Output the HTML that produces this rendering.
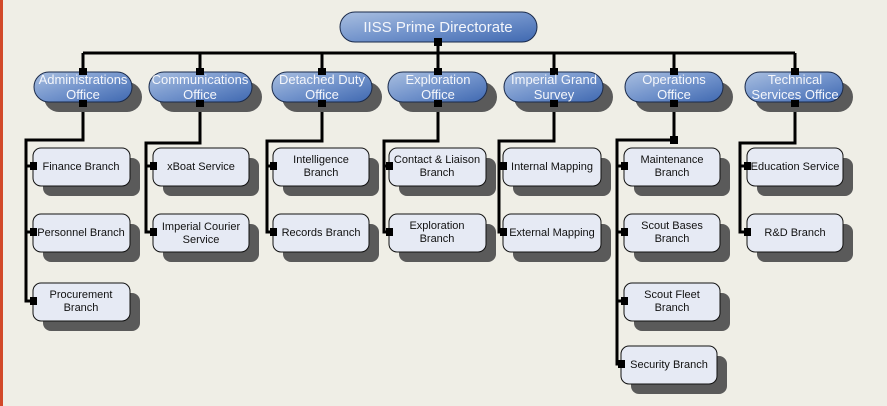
<!DOCTYPE html>
<html><head><meta charset="utf-8"><style>
html,body{margin:0;padding:0;background:#efeee6;}
svg{display:block;font-family:"Liberation Sans",sans-serif;}
</style></head><body>
<svg width="887" height="406" viewBox="0 0 887 406" xmlns="http://www.w3.org/2000/svg">
<defs>
<linearGradient id="pg" x1="0" y1="0" x2="1" y2="1">
<stop offset="0" stop-color="#a9bfe0"/><stop offset="0.5" stop-color="#7394cc"/><stop offset="1" stop-color="#3f68b0"/>
</linearGradient>
</defs>
<rect x="0" y="0" width="887" height="406" fill="#efeee6"/>
<rect x="0" y="0" width="3" height="406" fill="#d2492a"/>
<g stroke="#000" stroke-width="3" fill="none">
<line x1="438" y1="42" x2="438" y2="72"/>
<line x1="83" y1="53" x2="795" y2="53"/>
<line x1="83" y1="53" x2="83" y2="72"/><line x1="200" y1="53" x2="200" y2="72"/><line x1="322" y1="53" x2="322" y2="72"/><line x1="554" y1="53" x2="554" y2="72"/><line x1="674" y1="53" x2="674" y2="72"/><line x1="795" y1="53" x2="795" y2="72"/>
<polyline points="83,102 83,140 26,140 26,301 33,301"/><line x1="26" y1="232" x2="33" y2="232"/><line x1="26" y1="166" x2="33" y2="166"/>
<polyline points="200,102 200,143 146,143 146,232 153,232"/><line x1="146" y1="166" x2="153" y2="166"/>
<polyline points="322,102 322,141 267,141 267,232 273,232"/><line x1="267" y1="166" x2="273" y2="166"/>
<polyline points="438,102 438,141 384,141 384,232 389,232"/><line x1="384" y1="166" x2="389" y2="166"/>
<polyline points="554,102 554,141 499,141 499,232 503,232"/><line x1="499" y1="166" x2="503" y2="166"/>
<polyline points="674,102 674,140 617,140 617,364 621,364"/><line x1="617" y1="166" x2="624" y2="166"/><line x1="617" y1="232" x2="624" y2="232"/><line x1="617" y1="301" x2="624" y2="301"/>
<polyline points="795,102 795,143 740,143 740,232 747,232"/><line x1="740" y1="166" x2="747" y2="166"/>
</g>
<g fill="#5a5a5a">
<rect x="44" y="82" width="98" height="30" rx="15"/><rect x="159" y="82" width="103" height="30" rx="15"/><rect x="282" y="82" width="100" height="30" rx="15"/><rect x="398" y="82" width="99" height="30" rx="15"/><rect x="514" y="82" width="99" height="30" rx="15"/><rect x="635" y="82" width="98" height="30" rx="15"/><rect x="755" y="82" width="98" height="30" rx="15"/>
<rect x="43" y="158" width="97" height="38" rx="8"/><rect x="43" y="224" width="97" height="38" rx="8"/><rect x="43" y="293" width="97" height="38" rx="8"/>
<rect x="163" y="158" width="96" height="38" rx="8"/><rect x="163" y="224" width="96" height="38" rx="8"/>
<rect x="283" y="158" width="96" height="38" rx="8"/><rect x="283" y="224" width="96" height="38" rx="8"/>
<rect x="399" y="158" width="97" height="38" rx="8"/><rect x="399" y="224" width="97" height="38" rx="8"/>
<rect x="513" y="158" width="98" height="38" rx="8"/><rect x="513" y="224" width="98" height="38" rx="8"/>
<rect x="634" y="158" width="96" height="38" rx="8"/><rect x="634" y="224" width="96" height="38" rx="8"/><rect x="634" y="293" width="96" height="38" rx="8"/><rect x="631" y="356" width="96" height="38" rx="8"/>
<rect x="757" y="158" width="96" height="38" rx="8"/><rect x="757" y="224" width="96" height="38" rx="8"/>
</g>
<g fill="url(#pg)" stroke="#1a2a4a" stroke-width="1">
<rect x="340" y="12" width="197" height="30" rx="15"/>
<rect x="34" y="72" width="98" height="30" rx="15"/><rect x="149" y="72" width="103" height="30" rx="15"/><rect x="272" y="72" width="100" height="30" rx="15"/><rect x="388" y="72" width="99" height="30" rx="15"/><rect x="504" y="72" width="99" height="30" rx="15"/><rect x="625" y="72" width="98" height="30" rx="15"/><rect x="745" y="72" width="98" height="30" rx="15"/>
</g>
<g fill="#e6eaf4" stroke="#111" stroke-width="1">
<rect x="33" y="148" width="97" height="38" rx="8"/><rect x="33" y="214" width="97" height="38" rx="8"/><rect x="33" y="283" width="97" height="38" rx="8"/>
<rect x="153" y="148" width="96" height="38" rx="8"/><rect x="153" y="214" width="96" height="38" rx="8"/>
<rect x="273" y="148" width="96" height="38" rx="8"/><rect x="273" y="214" width="96" height="38" rx="8"/>
<rect x="389" y="148" width="97" height="38" rx="8"/><rect x="389" y="214" width="97" height="38" rx="8"/>
<rect x="503" y="148" width="98" height="38" rx="8"/><rect x="503" y="214" width="98" height="38" rx="8"/>
<rect x="624" y="148" width="96" height="38" rx="8"/><rect x="624" y="214" width="96" height="38" rx="8"/><rect x="624" y="283" width="96" height="38" rx="8"/><rect x="621" y="346" width="96" height="38" rx="8"/>
<rect x="747" y="148" width="96" height="38" rx="8"/><rect x="747" y="214" width="96" height="38" rx="8"/>
</g>
<g fill="#000">
<rect x="434" y="38" width="8" height="8"/>
<rect x="79" y="68" width="8" height="7"/><rect x="196" y="68" width="8" height="7"/><rect x="318" y="68" width="8" height="7"/><rect x="434" y="68" width="8" height="7"/><rect x="550" y="68" width="8" height="7"/><rect x="670" y="68" width="8" height="7"/><rect x="791" y="68" width="8" height="7"/>
<rect x="79" y="100" width="8" height="7"/><rect x="196" y="100" width="8" height="7"/><rect x="318" y="100" width="8" height="7"/><rect x="434" y="100" width="8" height="7"/><rect x="550" y="100" width="8" height="7"/><rect x="670" y="100" width="8" height="7"/><rect x="791" y="100" width="8" height="7"/>
<rect x="670" y="136" width="8" height="8"/>
<rect x="30" y="162" width="7" height="8"/><rect x="30" y="228" width="7" height="8"/><rect x="30" y="297" width="7" height="8"/>
<rect x="150" y="162" width="7" height="8"/><rect x="150" y="228" width="7" height="8"/>
<rect x="270" y="162" width="7" height="8"/><rect x="270" y="228" width="7" height="8"/>
<rect x="386" y="162" width="7" height="8"/><rect x="386" y="228" width="7" height="8"/>
<rect x="500" y="162" width="7" height="8"/><rect x="500" y="228" width="7" height="8"/>
<rect x="621" y="162" width="7" height="8"/><rect x="621" y="228" width="7" height="8"/><rect x="621" y="297" width="7" height="8"/><rect x="618" y="360" width="7" height="8"/>
<rect x="744" y="162" width="7" height="8"/><rect x="744" y="228" width="7" height="8"/>
</g>
<g fill="#f4f6fb" font-size="13" text-anchor="middle">
<text x="438" y="32" font-size="15">IISS Prime Directorate</text>
<text x="83" y="84">Administrations</text><text x="83" y="99">Office</text>
<text x="200" y="84">Communications</text><text x="200" y="99">Office</text>
<text x="322" y="84">Detached Duty</text><text x="322" y="99">Office</text>
<text x="438" y="84">Exploration</text><text x="438" y="99">Office</text>
<text x="554" y="84">Imperial Grand</text><text x="554" y="99">Survey</text>
<text x="674" y="84">Operations</text><text x="674" y="99">Office</text>
<text x="795" y="84">Technical</text><text x="795" y="99">Services Office</text>
</g>
<g fill="#111" font-size="11" text-anchor="middle">
<text x="81" y="170">Finance Branch</text>
<text x="81" y="236">Personnel Branch</text>
<text x="81" y="298">Procurement</text><text x="81" y="311">Branch</text>
<text x="201" y="170">xBoat Service</text>
<text x="201" y="230">Imperial Courier</text><text x="201" y="243">Service</text>
<text x="321" y="163">Intelligence</text><text x="321" y="176">Branch</text>
<text x="321" y="236">Records Branch</text>
<text x="437" y="163">Contact &amp; Liaison</text><text x="437" y="176">Branch</text>
<text x="437" y="229">Exploration</text><text x="437" y="242">Branch</text>
<text x="552" y="170">Internal Mapping</text>
<text x="552" y="236">External Mapping</text>
<text x="672" y="163">Maintenance</text><text x="672" y="176">Branch</text>
<text x="672" y="229">Scout Bases</text><text x="672" y="242">Branch</text>
<text x="672" y="298">Scout Fleet</text><text x="672" y="311">Branch</text>
<text x="669" y="368">Security Branch</text>
<text x="795" y="170">Education Service</text>
<text x="795" y="236">R&amp;D Branch</text>
</g>
</svg>
</body></html>
